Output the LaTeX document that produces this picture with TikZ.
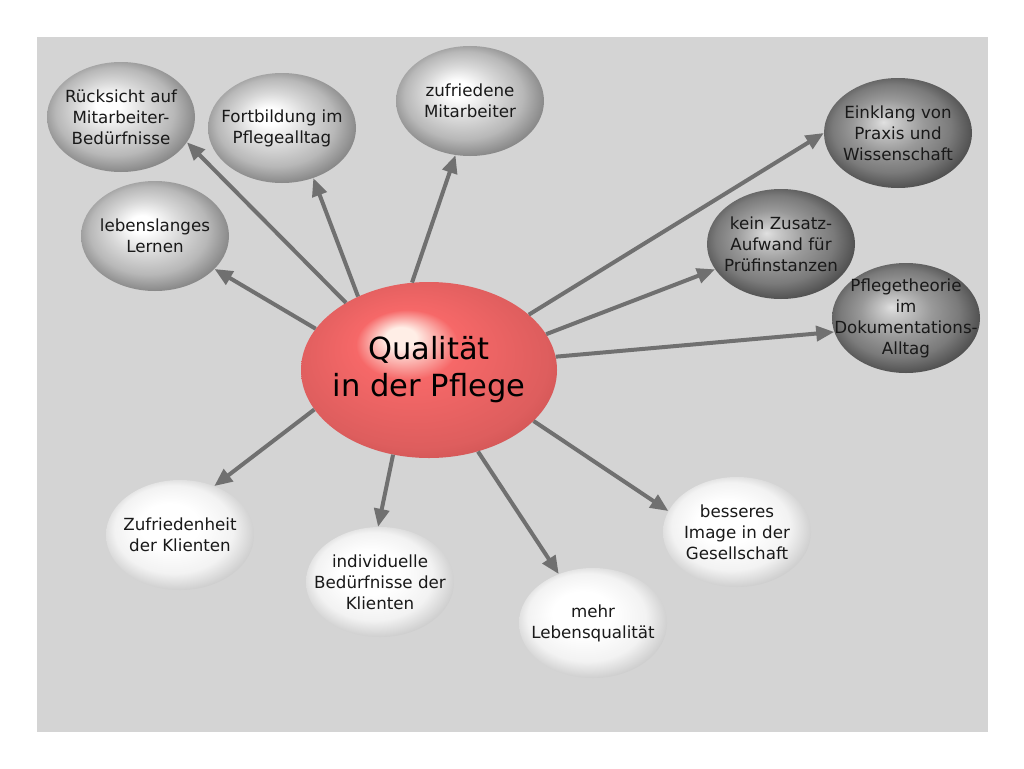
\documentclass[tikz,border=0pt]{standalone}
\usepackage{fontspec}
\setmainfont{DejaVu Sans}
\usepackage{xcolor}
\usetikzlibrary{arrows.meta,shapes.geometric}
\definecolor{bggrey}{RGB}{212,212,212}
\definecolor{arrowgrey}{RGB}{112,112,112}
\definecolor{txtdark}{RGB}{25,25,25}
\definecolor{redhi}{RGB}{255,238,230}
\definecolor{redmain}{RGB}{246,104,104}
\definecolor{rededge}{RGB}{190,72,72}
\pgfdeclareradialshading{balllight}{\pgfpoint{-5bp}{6bp}}{color(0bp)=(white); color(10bp)=(white); color(20bp)=(white!95!black); color(27bp)=(white!80!black); color(35bp)=(white!70!black)}
\pgfdeclareradialshading{ballmid}{\pgfpoint{-5bp}{6bp}}{color(0bp)=(white); color(4bp)=(white); color(12bp)=(white!85!black); color(20bp)=(white!72!black); color(27bp)=(white!52!black); color(35bp)=(white!42!black)}
\pgfdeclareradialshading{balldark}{\pgfpoint{-5bp}{5bp}}{color(0bp)=(white!88!black); color(3bp)=(white!80!black); color(12bp)=(white!60!black); color(20bp)=(white!48!black); color(27bp)=(white!30!black); color(35bp)=(white!22!black)}
\pgfdeclareradialshading{ballred}{\pgfpoint{-6bp}{10bp}}{color(0bp)=(redhi); color(3bp)=(redhi); color(10bp)=(redmain); color(25bp)=(redmain!90!black); color(35bp)=(rededge)}
\tikzset{
	bubble/.style={ellipse, shade, minimum width=148pt, minimum height=110pt, inner xsep=-26pt, inner ysep=-5pt, align=center, text=txtdark, font=\fontsize{16.7}{21}\selectfont},
	light/.style={bubble, shading=balllight},
	mid/.style={bubble, shading=ballmid},
	dark/.style={bubble, shading=balldark},
	link/.style={draw=arrowgrey, line width=4pt, -{Triangle[length=18pt,width=15pt]}}
}

\begin{document}
\begin{tikzpicture}[x=1pt,y=-1pt]
	\useasboundingbox (0,0) rectangle (1024,768);
	\fill[bggrey] (37,37) rectangle (988,732);

	\node[bubble, shading=ballred, minimum width=256pt, minimum height=176pt, text=black, font=\fontsize{30.5}{37}\selectfont] (qual) at (429,370) {Qualität\\in der Pflege};

	\node[mid] (rueck) at (121,117) {Rücksicht auf\\Mitarbeiter-\\Bedürfnisse};
	\node[mid] (fortb) at (282,128) {Fortbildung im\\Pflegealltag};
	\node[mid] (zufrma) at (470,101) {zufriedene\\Mitarbeiter};
	\node[mid] (lernen) at (155,236) {lebenslanges\\Lernen};

	\node[dark] (einklang) at (898,133) {Einklang von\\Praxis und\\Wissenschaft};
	\node[dark] (zusatz) at (781,244) {kein Zusatz-\\Aufwand für\\Prüfinstanzen};
	\node[dark] (theorie) at (906,318) {Pflegetheorie\\im\\Dokumentations-\\Alltag};

	\node[light] (zufrkl) at (180,535) {Zufriedenheit\\der Klienten};
	\node[light] (indiv) at (380,582) {individuelle\\Bedürfnisse der\\Klienten};
	\node[light] (lebensq) at (593,623) {mehr\\Lebensqualität};
	\node[light] (image) at (737,532) {besseres\\Image in der\\Gesellschaft};

	\draw[link] (qual.141) -- (rueck.-21);
	\draw[link] (qual.134) -- (fortb.-58);
	\draw[link] (qual.101) -- (zufrma.-105);
	\draw[link] (qual.160) -- (lernen.-29);
	\draw[link] (qual.29) -- (einklang.180);
	\draw[link] (qual.17) -- (zusatz.201);
	\draw[link] (qual.6) -- (theorie.191);
	\draw[link] (qual.199) -- (zufrkl.55);
	\draw[link] (qual.247) -- (indiv.92);
	\draw[link] (qual.301) -- (lebensq.125);
	\draw[link] (qual.334) -- (image.163);
\end{tikzpicture}
\end{document}
